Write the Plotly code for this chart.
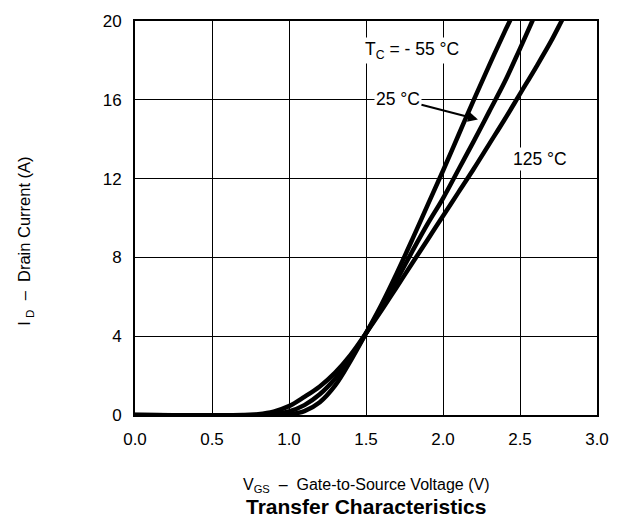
import plotly.graph_objects as go

# Data
v_m55 = [0.0, 0.9, 1.0, 1.1, 1.2, 1.3, 1.4, 1.5, 1.6, 1.7, 1.8, 1.9, 2.0, 2.1, 2.2, 2.3, 2.4, 2.44, 2.48]
i_m55 = [0.0, 0.0, 0.03, 0.2, 0.65, 1.5, 2.75, 4.15, 5.6, 7.2, 8.9, 10.65, 12.4, 14.2, 16.0, 17.75, 19.45, 20.1, 20.8]

v_25 = [0.0, 0.8, 0.9, 1.0, 1.1, 1.2, 1.3, 1.4, 1.5, 1.6, 1.7, 1.8, 1.9, 2.0, 2.1, 2.2, 2.3, 2.4, 2.5, 2.58, 2.62]
i_25 = [0.0, 0.0, 0.04, 0.18, 0.5, 1.05, 1.85, 2.9, 4.15, 5.45, 6.85, 8.3, 9.7, 11.0, 12.45, 13.9, 15.4, 16.9, 18.6, 20.0, 20.7]

v_125 = [0.0, 0.7, 0.8, 0.9, 1.0, 1.1, 1.2, 1.3, 1.4, 1.5, 1.6, 1.7, 1.8, 1.9, 2.0, 2.1, 2.2, 2.3, 2.4, 2.5, 2.6, 2.7, 2.77, 2.81]
i_125 = [0.0, 0.0, 0.04, 0.17, 0.45, 0.92, 1.45, 2.15, 3.05, 4.15, 5.3, 6.5, 7.7, 8.9, 10.1, 11.3, 12.5, 13.75, 15.0, 16.3, 17.6, 18.95, 20.0, 20.6]

x_ticks = [0.0, 0.5, 1.0, 1.5, 2.0, 2.5, 3.0]
x_tick_labels = ["0.0", "0.5", "1.0", "1.5", "2.0", "2.5", "3.0"]
y_ticks = [0, 4, 8, 12, 16, 20]
y_tick_labels = ["0", "4", "8", "12", "16", "20"]

FONT = "Liberation Sans, Arial, Helvetica, sans-serif"

fig = go.Figure()
for xs, ys, name in [(v_m55, i_m55, "-55 °C"), (v_25, i_25, "25 °C"), (v_125, i_125, "125 °C")]:
    fig.add_trace(go.Scatter(x=xs, y=ys, mode="lines", name=name,
                             line=dict(color="black", width=4.5, shape="spline", smoothing=1.0),
                             showlegend=False, hoverinfo="skip"))

axis_common = dict(showgrid=True, gridcolor="black", gridwidth=1,
                   showline=True, linecolor="black", linewidth=2, mirror=True,
                   zeroline=False, ticks="", ticklabelstandoff=8,
                   tickfont=dict(family=FONT, size=17, color="black"))

fig.update_xaxes(range=[0, 3.0], tickvals=x_ticks, ticktext=x_tick_labels, **axis_common)
fig.update_yaxes(range=[0, 20], tickvals=y_ticks, ticktext=y_tick_labels, **axis_common)

fig.update_layout(
    width=630, height=527,
    margin=dict(l=135, r=33, t=13, b=112),
    paper_bgcolor="white", plot_bgcolor="white",
    font=dict(family=FONT, color="black"),
    annotations=[
        dict(text="V<sub>GS</sub>  –  Gate-to-Source Voltage (V)", xref="paper", yref="paper",
             x=0.5, y=-0.179, xanchor="center", yanchor="middle", showarrow=False,
             font=dict(family=FONT, size=16)),
        dict(text="<b>Transfer Characteristics</b>", xref="paper", yref="paper",
             x=0.5, y=-0.231, xanchor="center", yanchor="middle", showarrow=False,
             font=dict(family=FONT, size=21)),
        dict(text="I<sub> D</sub>  –  Drain Current (A)", xref="paper", yref="paper",
             x=-0.238, y=0.44, xanchor="center", yanchor="middle", textangle=-90, showarrow=False,
             font=dict(family=FONT, size=16.5)),
        dict(text="T<sub>C</sub> = - 55 °C", x=1.8, y=18.5, showarrow=False,
             bgcolor="white", font=dict(family=FONT, size=17.5)),
        dict(text="25 °C", x=2.227, y=15.0, ax=-80, ay=-21, showarrow=True,
             arrowhead=2, arrowsize=1, arrowwidth=2, arrowcolor="black",
             bgcolor="white", font=dict(family=FONT, size=17.5)),
        dict(text="125 °C", x=2.63, y=13.0, showarrow=False,
             bgcolor="white", font=dict(family=FONT, size=17.5)),
    ],
)

fig.write_html("out.html", config={"displayModeBar": False},
               post_script="document.body.style.margin='0';")
